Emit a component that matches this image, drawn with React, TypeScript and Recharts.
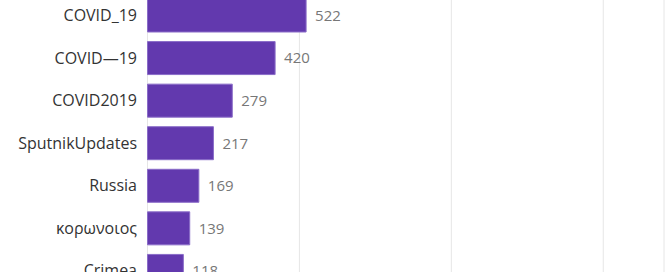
import { BarChart, Bar, XAxis, YAxis, CartesianGrid, LabelList } from 'recharts';

const hashtags = ['COVID_19', 'COVID—19', 'COVID2019', 'SputnikUpdates', 'Russia', 'κορωνοιος', 'Crimea'];
const counts = [522, 420, 279, 217, 169, 139, 118];
const gridTicks = [500, 1000, 1500];

const data = hashtags.map((name, i) => ({ name, count: counts[i] }));

const font = '"Open Sans", "Noto Sans", sans-serif';

const App = () => {
  return (
    <div
      style={{
        position: 'fixed',
        top: 0,
        left: 0,
        width: 669,
        height: 272,
        overflow: 'hidden',
        background: '#fff',
      }}
    >
      <div style={{ position: 'absolute', top: -20, left: 0 }}>
        <BarChart
          width={669}
          height={322}
          data={data}
          layout="vertical"
          margin={{ top: 14, right: 5, bottom: 10, left: 0 }}
          barSize={33}
        >
          <CartesianGrid horizontal={false} stroke="#e6e6e6" />
          <XAxis type="number" domain={[0, 1700]} ticks={gridTicks} hide />
          <YAxis
            type="category"
            dataKey="name"
            width={147.5}
            axisLine={false}
            tickLine={false}
            tickSize={0}
            tickMargin={10.5}
            tick={{ fill: '#333', fontSize: 16, fontFamily: font }}
            interval={0}
          />
          <Bar dataKey="count" fill="#6239ae" stroke="#8a6cc8" strokeWidth={1} isAnimationActive={false}>
            <LabelList
              dataKey="count"
              position="right"
              offset={9}
              style={{ fill: '#777', fontSize: 15, fontFamily: font }}
            />
          </Bar>
        </BarChart>
      </div>
    </div>
  );
};

export default App;
